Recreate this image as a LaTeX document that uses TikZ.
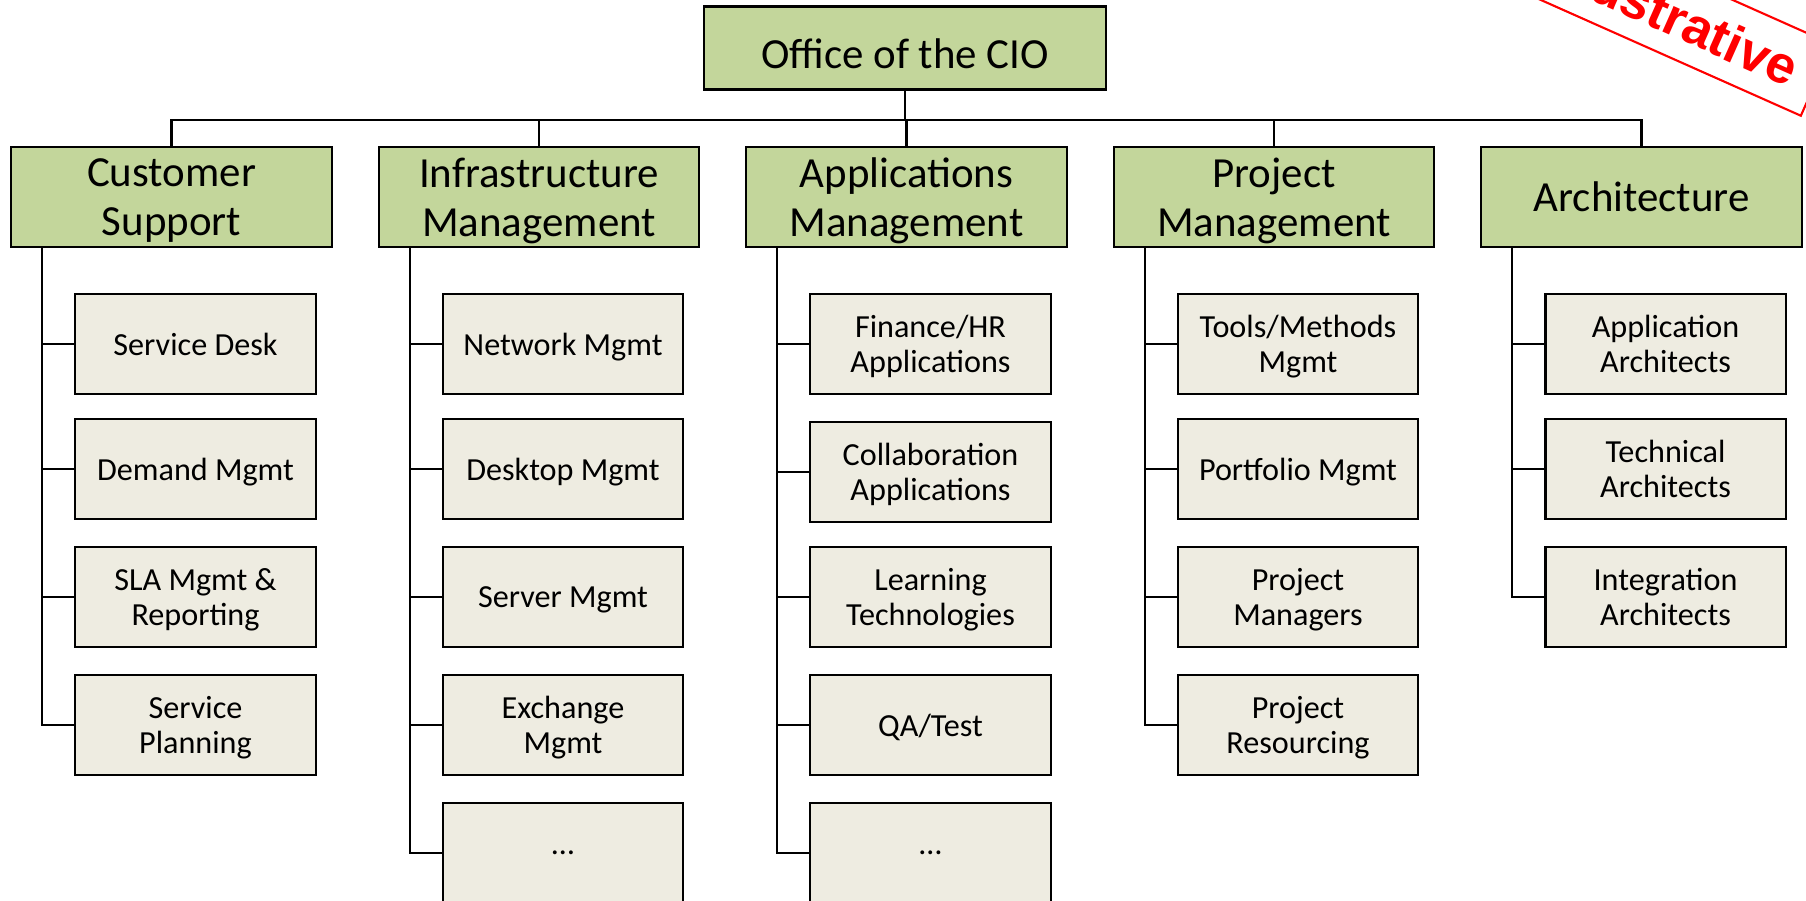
\documentclass[tikz,border=0pt]{standalone}
\usepackage{fontspec}
\setmainfont{Carlito}
\newfontfamily\stampfont{Liberation Sans}
\usetikzlibrary{positioning}
\definecolor{headgreen}{HTML}{C3D69B}
\definecolor{unitgrey}{HTML}{EEECE1}
\definecolor{stampred}{HTML}{FF0000}

\begin{document}
\begin{tikzpicture}[x=0.01cm, y=-0.01cm,
		box/.style={draw=black, line width=0.6pt, inner sep=0pt, align=center, text depth=0pt},
		cio/.style={box, fill=headgreen, minimum width=4.02cm, minimum height=0.83cm, text height=11.4pt, font=\fontsize{12.2}{14}\selectfont},
		dept/.style={box, fill=headgreen, minimum width=3.2cm, minimum height=0.994cm, font=\fontsize{12.2}{14}\selectfont},
		unit/.style={box, fill=unitgrey, minimum width=2.4cm, minimum height=1cm, font=\fontsize{9.15}{10}\selectfont},
		link/.style={line width=0.6pt}]
					\useasboundingbox (0,0) rectangle (1806,901);
					\clip (0,0) rectangle (1806,901);

					%Nodes
					\node[cio]  (cio) at (905,48) {Office of the CIO};

					\node[dept] (cs) at (171.5,197) {Customer\\Support};
					\node[dept] (im) at (539,197)   {Infrastructure\\Management};
					\node[dept] (am) at (906.5,197) {Applications\\Management};
					\node[dept] (pm) at (1274,197)  {Project\\Management};
					\node[dept] (ar) at (1641.5,197) {Architecture};

					\node[unit] (cs1) at (195.5,344) {Service Desk};
					\node[unit] (cs2) at (195.5,469) {Demand Mgmt};
					\node[unit] (cs3) at (195.5,597) {SLA Mgmt \&\\Reporting};
					\node[unit] (cs4) at (195.5,725) {Service\\Planning};

					\node[unit] (im1) at (563,344) {Network Mgmt};
					\node[unit] (im2) at (563,469) {Desktop Mgmt};
					\node[unit] (im3) at (563,597) {Server Mgmt};
					\node[unit] (im4) at (563,725) {Exchange\\Mgmt};
					\node[unit] (im5) at (563,853) {\dots};

					\node[unit] (am1) at (930.5,344) {Finance/HR\\Applications};
					\node[unit] (am2) at (930.5,472) {Collaboration\\Applications};
					\node[unit] (am3) at (930.5,597) {Learning\\Technologies};
					\node[unit] (am4) at (930.5,725) {QA/Test};
					\node[unit] (am5) at (930.5,853) {\dots};

					\node[unit] (pm1) at (1298,344) {Tools/Methods\\Mgmt};
					\node[unit] (pm2) at (1298,469) {Portfolio Mgmt};
					\node[unit] (pm3) at (1298,597) {Project\\Managers};
					\node[unit] (pm4) at (1298,725) {Project\\Resourcing};

					\node[unit] (ar1) at (1665.5,344) {Application\\Architects};
					\node[unit] (ar2) at (1665.5,469) {Technical\\Architects};
					\node[unit] (ar3) at (1665.5,597) {Integration\\Architects};

					%Lines
					\foreach \d in {cs,im,am,pm,ar}
						\draw[link] (cio.south) -- ++(0,29.5) -| (\d.north);
					\foreach \u in {1,...,4}
						\draw[link] ([xshift=0.32cm]cs.south west) |- (cs\u.west);
					\foreach \u in {1,...,5}
						\draw[link] ([xshift=0.32cm]im.south west) |- (im\u.west);
					\foreach \u in {1,...,5}
						\draw[link] ([xshift=0.32cm]am.south west) |- (am\u.west);
					\foreach \u in {1,...,4}
						\draw[link] ([xshift=0.32cm]pm.south west) |- (pm\u.west);
					\foreach \u in {1,...,3}
						\draw[link] ([xshift=0.32cm]ar.south west) |- (ar\u.west);

					%Stamp
					\node[rotate=-24, draw=stampred, line width=0.6pt, text=stampred, minimum width=3.1cm, minimum height=0.78cm, inner sep=0pt, font=\stampfont\bfseries\fontsize{15}{18}\selectfont] (stamp) at (1675,17) {Illustrative};

				\end{tikzpicture}
\end{document}
